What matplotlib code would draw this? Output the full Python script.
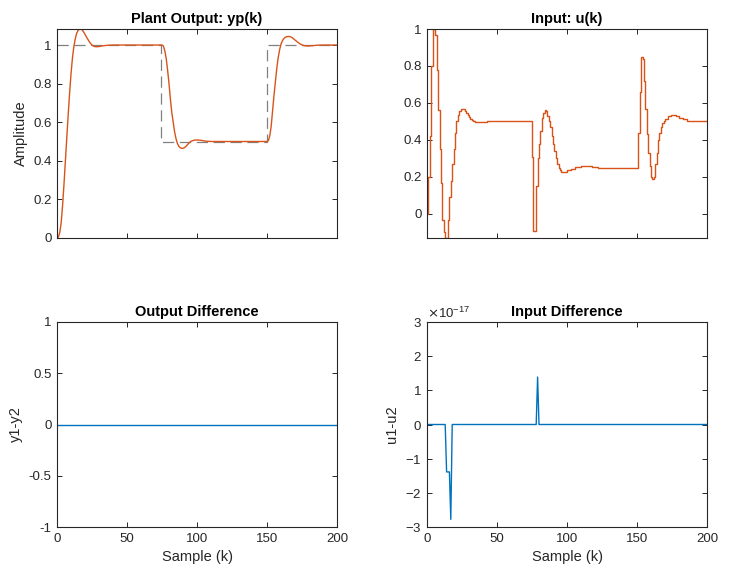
import matplotlib
matplotlib.use("Agg")
import matplotlib.pyplot as plt
from matplotlib.ticker import FuncFormatter, ScalarFormatter
import numpy as np

plt.rcParams['font.family'] = ['Liberation Sans', 'DejaVu Sans']
plt.rcParams['axes.unicode_minus'] = False

# == DATA =================================================================== #
# reference (setpoint), drawn as a step
ref_k = [0, 74, 150, 200]
ref_v = [1.0, 0.5, 1.0, 1.0]

# plant output yp(k)
yp_k = [0, 1, 2, 3, 4, 5, 6, 7, 8, 9, 10, 11, 12, 13, 14, 15, 16, 17, 18, 19,
        20, 21, 22, 23, 24, 25, 26, 27, 28, 30, 32, 35, 40, 74,
        75, 76, 77, 78, 79, 80, 81, 82, 83, 84, 85, 86, 87, 88, 89, 90, 91,
        92, 93, 94, 95, 96, 98, 100, 103, 106, 110, 150,
        151, 152, 153, 154, 155, 156, 157, 158, 159, 160, 161, 162, 163, 164,
        165, 166, 167, 168, 169, 170, 172, 174, 176, 178, 180, 183, 186, 190,
        200]
yp_v = [0.0, 0.005, 0.03, 0.08, 0.17, 0.28, 0.40, 0.52, 0.64, 0.75, 0.85,
        0.93, 0.99, 1.03, 1.06, 1.075, 1.082, 1.083, 1.078, 1.068,
        1.055, 1.042, 1.03, 1.018, 1.008, 1.0, 0.995, 0.992, 0.991, 0.992,
        0.995, 0.998, 1.0, 1.0,
        1.0, 0.995, 0.97, 0.93, 0.87, 0.80, 0.72, 0.65, 0.60, 0.55, 0.515,
        0.49, 0.475, 0.468, 0.465, 0.465, 0.468,
        0.474, 0.482, 0.49, 0.497, 0.502, 0.507, 0.508, 0.506, 0.502, 0.5, 0.5,
        0.505, 0.53, 0.58, 0.66, 0.74, 0.81, 0.88, 0.935, 0.975, 1.005, 1.022,
        1.033, 1.04, 1.043, 1.044, 1.044, 1.042, 1.038, 1.032, 1.026, 1.014,
        1.004, 0.998, 0.995, 0.995, 0.997, 0.999, 1.0, 1.0]

# control input u(k), held between samples
u_k = [0, 1, 2, 3, 4, 5, 6, 7, 8, 9, 10, 11, 12, 13, 14, 15, 16, 17, 18, 19,
       20, 21, 22, 23, 24, 25, 26, 27, 28, 29, 30, 31, 32, 33, 34, 35, 36,
       38, 40, 43,
       75, 76, 77, 78, 79, 80, 81, 82, 83, 84, 85, 86, 87, 88, 89, 90, 91,
       92, 93, 94, 95, 96, 97, 98, 100, 103, 106, 110, 114, 118, 122, 126,
       151, 152, 153, 154, 155, 156, 157, 158, 159, 160, 161, 162, 163, 164,
       165, 166, 167, 168, 169, 170, 172, 174, 176, 178, 180, 183, 186, 190,
       200]
u_v = [0.0, 0.2, 0.42, 0.8, 1.0, 1.0, 0.97, 0.78, 0.56, 0.35, 0.17, -0.03,
       -0.10, -0.13, -0.13, -0.03, 0.09, 0.18, 0.27, 0.35,
       0.44, 0.5, 0.535, 0.555, 0.565, 0.568, 0.565, 0.558, 0.548, 0.536,
       0.525, 0.515, 0.507, 0.501, 0.497, 0.495, 0.495,
       0.497, 0.499, 0.5,
       0.31, -0.09, -0.09, 0.15, 0.30, 0.38, 0.45, 0.52, 0.545, 0.56, 0.555,
       0.53, 0.5, 0.47, 0.42, 0.38, 0.34,
       0.30, 0.27, 0.25, 0.235, 0.228, 0.226, 0.228, 0.235, 0.245, 0.255,
       0.26, 0.258, 0.254, 0.251, 0.25,
       0.44, 0.66, 0.85, 0.84, 0.72, 0.57, 0.43, 0.33, 0.26, 0.20, 0.19,
       0.20, 0.27, 0.33,
       0.40, 0.44, 0.47, 0.49, 0.505, 0.515, 0.528, 0.535, 0.535, 0.53,
       0.52, 0.512, 0.505, 0.5, 0.5]

# y1-y2 difference (identically zero)
dy_k = [0, 200]
dy_v = [0.0, 0.0]

# u1-u2 difference (round-off level)
du_k = [0, 13, 14, 15, 16, 17, 18, 78, 79, 80, 200]
du_v = [0.0, 0.0, -1.3878e-17, -1.3878e-17, -1.3878e-17, -2.7756e-17, 0.0,
        0.0, 1.3878e-17, 0.0, 0.0]

# == PLOT =================================================================== #
ORANGE = '#D95319'
BLUE = '#0072BD'
AXC = '#262626'

fig = plt.figure(figsize=(7.37, 5.78), dpi=100)
W = 280 / 737.0
ax1 = fig.add_axes([57 / 737.0, 340 / 578.0, W, 209 / 578.0])
ax2 = fig.add_axes([427 / 737.0, 340 / 578.0, W, 209 / 578.0])
ax3 = fig.add_axes([57 / 737.0, 51 / 578.0, W, 205 / 578.0])
ax4 = fig.add_axes([427 / 737.0, 51 / 578.0, W, 205 / 578.0])

gfmt = FuncFormatter(lambda v, p: '%g' % round(v, 6))

for ax in (ax1, ax2, ax3, ax4):
    ax.set_xlim(0, 200)
    ax.set_xticks([0, 50, 100, 150, 200])
    ax.tick_params(direction='in', length=3.5, width=0.7, top=True,
                   right=True, labelsize=9.5, colors=AXC, pad=4)
    for s in ax.spines.values():
        s.set_color(AXC)
        s.set_linewidth(0.8)

# Plant output
ax1.step(ref_k, ref_v, where='post', color='#808080', lw=0.9,
         dashes=(9, 4.5))
ax1.plot(yp_k, yp_v, color=ORANGE, lw=1.0)
ax1.set_ylim(0, max(yp_v))
ax1.set_yticks([0, 0.2, 0.4, 0.6, 0.8, 1.0])
ax1.yaxis.set_major_formatter(gfmt)
ax1.tick_params(labelbottom=False)
ax1.set_title('Plant Output: yp(k)', fontsize=10.5, fontweight='bold',
              color='black', pad=4)
ax1.set_ylabel('Amplitude', fontsize=10.5, color=AXC)

# Input
ax2.step(u_k, u_v, where='post', color=ORANGE, lw=1.0)
ax2.set_ylim(min(u_v), max(u_v))
ax2.set_yticks([0, 0.2, 0.4, 0.6, 0.8, 1.0])
ax2.yaxis.set_major_formatter(gfmt)
ax2.tick_params(labelbottom=False)
ax2.set_title('Input: u(k)', fontsize=10.5, fontweight='bold',
              color='black', pad=4)

# Output difference
ax3.plot(dy_k, dy_v, color=BLUE, lw=1.0)
ax3.set_ylim(-1, 1)
ax3.set_yticks([-1, -0.5, 0, 0.5, 1])
ax3.yaxis.set_major_formatter(gfmt)
ax3.set_title('Output Difference', fontsize=10.5, fontweight='bold',
              color='black', pad=4)
ax3.set_ylabel('y1-y2', fontsize=10.5, color=AXC)
ax3.set_xlabel('Sample (k)', fontsize=10.5, color=AXC)

# Input difference
ax4.plot(du_k, du_v, color=BLUE, lw=1.0)
ax4.set_ylim(-3e-17, 3e-17)
ax4.set_yticks(np.arange(-3, 4) * 1e-17)
sf = ScalarFormatter(useMathText=True)
sf.set_powerlimits((0, 0))
ax4.yaxis.set_major_formatter(sf)
ax4.yaxis.get_offset_text().set_fontsize(9.5)
ax4.yaxis.get_offset_text().set_color(AXC)
ax4.set_title('Input Difference', fontsize=10.5, fontweight='bold',
              color='black', pad=4)
ax4.set_ylabel('u1-u2', fontsize=10.5, color=AXC)
ax4.set_xlabel('Sample (k)', fontsize=10.5, color=AXC)

fig.savefig('out.png', dpi=100)
